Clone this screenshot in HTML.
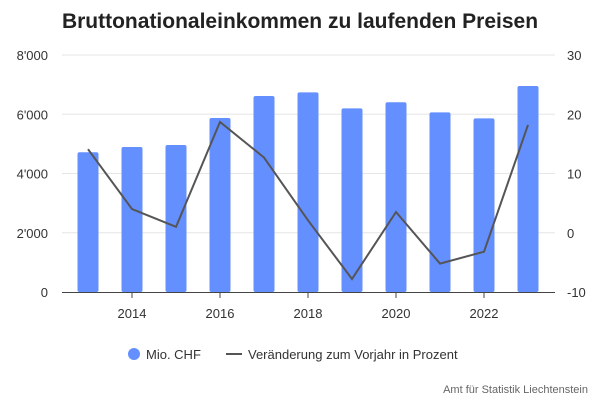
<!DOCTYPE html>
<html><head><meta charset="utf-8"><style>
body{margin:0;background:#fff;font-family:"Liberation Sans",sans-serif;}
svg text{font-family:"Liberation Sans",sans-serif;}
</style></head><body>
<svg width="600" height="400" viewBox="0 0 600 400" xmlns="http://www.w3.org/2000/svg">
<text x="300" y="28" text-anchor="middle" font-size="21" font-weight="bold" fill="#222">Bruttonationaleinkommen zu laufenden Preisen</text>
<g id="grid"></g><g id="bars"></g><g id="line"></g><g id="axes"></g>
<g>
<circle cx="134" cy="354" r="6" fill="#648fff"/>
<text x="146" y="359" font-size="13" fill="#333">Mio. CHF</text>
<line x1="226" y1="354" x2="242" y2="354" stroke="#555" stroke-width="2"/>
<text x="248" y="359" font-size="13" fill="#333">Veränderung zum Vorjahr in Prozent</text>
</g>
<text x="588" y="393" text-anchor="end" font-size="11" fill="#666">Amt für Statistik Liechtenstein</text>
</svg>
<script>
const years=[2013,2014,2015,2016,2017,2018,2019,2020,2021,2022,2023];
const chf=[4716,4895,4962,5873,6616,6740,6200,6403,6065,5862,6953];
const pct=[14.1,4.0,1.0,18.7,12.7,2.1,-7.8,3.5,-5.2,-3.2,18.2];
const leftTicks=[0,2000,4000,6000,8000];
const leftLabels=["0","2'000","4'000","6'000","8'000"];
const rightTicks=[-10,0,10,20,30];
const xTicks=[2014,2016,2018,2020,2022];
const NS="http://www.w3.org/2000/svg";
const x=v=>88+(v-2013)*44;
const yL=v=>292-v/8000*237;
const yR=v=>292-(v+10)/40*237;
function mk(t,a,p){const e=document.createElementNS(NS,t);for(const k in a)e.setAttribute(k,a[k]);p.appendChild(e);return e;}
const grid=document.getElementById('grid'),bars=document.getElementById('bars'),line=document.getElementById('line'),axes=document.getElementById('axes');
leftTicks.forEach((t,i)=>{
 if(t>0){const g=mk('line',{x1:62,x2:555,y1:yL(t),y2:yL(t),stroke:'#e6e6e6','stroke-width':1},grid);
 
 }
 const l=mk('text',{x:48,y:yL(t)+5,'text-anchor':'end','font-size':13,fill:'#333'},axes);l.textContent=leftLabels[i];
 
 
});
rightTicks.forEach(t=>{
 const l=mk('text',{x:567,y:yR(t)+5,'font-size':13,fill:'#333'},axes);l.textContent=t;
 
 
});
years.forEach((yr,i)=>{
 const b=mk('rect',{x:x(yr)-10.5,y:yL(chf[i]),width:21,height:292-yL(chf[i]),rx:2,fill:'#648fff'},bars);
 
 
});
const pl=mk('polyline',{points:years.map((yr,i)=>x(yr)+','+yR(pct[i])).join(' '),fill:'none',stroke:'#555','stroke-width':2,'stroke-linejoin':'miter'},line);


const ax=mk('line',{x1:62,x2:555,y1:292.5,y2:292.5,stroke:'#444','stroke-width':1},axes);


xTicks.forEach(t=>{
 const tk=mk('line',{x1:x(t),x2:x(t),y1:292,y2:298,stroke:'#444'},axes);
 
 
 const l=mk('text',{x:x(t),y:318,'text-anchor':'middle','font-size':13,fill:'#333'},axes);l.textContent=t;
 
 
});
</script>
</body></html>
